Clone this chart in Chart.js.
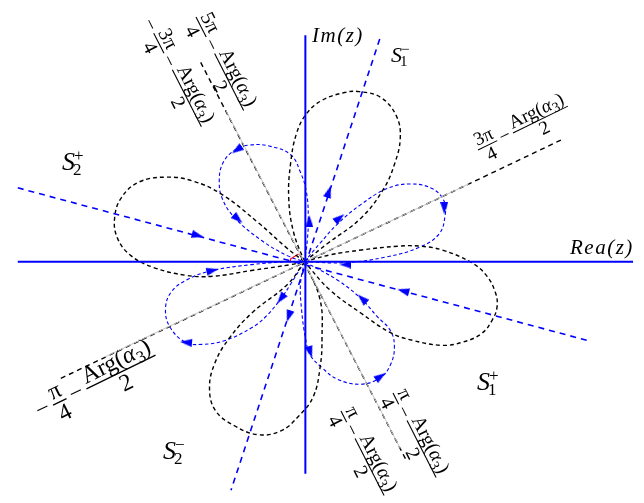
<!DOCTYPE html>
<html>
<head>
<meta charset="utf-8">
<script src="https://cdn.jsdelivr.net/npm/chart.js@4.4.0/dist/chart.umd.min.js"></script>
<style>
  html, body { margin: 0; padding: 0; background: #fff; }
  #wrap { width: 644px; height: 503px; }
</style>
</head>
<body>
<div id="wrap"><canvas id="myChart" width="644" height="503"></canvas></div>
<script>
// loops, as (Re, Im) relative to the origin
const petalBlackTop = [[0,0],[-11,30],[-16,65],[-14,102],[-8,132],[2,152],[18,166],[41,174],[56,175],[78,169],[94,150],[98,127],[92,100],[81,75],[58,45],[24,19],[0,0]];
const petalBlackLeft = [[0,0],[-19,15],[-47,40],[-84,69],[-114,83],[-141,87],[-169,82],[-187,66],[-194,45],[-191,24],[-177,6],[-154,-6],[-121,-14],[-94,-15],[-54,-9],[-14,-3],[0,0]];
const petalBlackRight = [[0,0],[26,7],[58,12],[96,16],[118,16],[141,12],[171,-1],[186,-14],[195,-31],[197,-46],[192,-60],[181,-74],[161,-83],[141,-86],[111,-81],[88,-73],[58,-53],[26,-29],[0,0]];
const petalBlackBottom = [[0,0],[-17,-23],[-54,-53],[-77,-79],[-91,-103],[-97,-129],[-91,-153],[-71,-169],[-47,-178],[-24,-174],[-6,-159],[9,-139],[16,-109],[18,-79],[16,-39],[0,0]];

const petalBlueUL = [[0,0],[3,22],[4,47],[2,72],[-4,92],[-14,110],[-36,119],[-56,120],[-71,115],[-83,102],[-87,85],[-84,65],[-71,45],[-44,22],[-17,6],[0,0]];
const petalBlueUR = [[0,0],[16,19],[34,39],[58,59],[84,75],[108,80],[131,75],[143,62],[144,49],[138,29],[118,15],[84,5],[41,-1],[0,0]];
const petalBlueLL = [[0,0],[-14,-23],[-24,-38],[-39,-56],[-54,-68],[-81,-81],[-104,-85],[-121,-83],[-137,-68],[-142,-49],[-136,-31],[-119,-18],[-94,-9],[-54,-3],[-19,0],[0,0]];
const petalBlueLR = [[0,0],[-4,-23],[-3,-48],[1,-78],[6,-96],[18,-109],[34,-121],[58,-126],[78,-119],[88,-106],[92,-88],[88,-71],[74,-56],[59,-39],[34,-19],[0,0]];

// straight lines
const realAxis = [[-293,0],[336,0]];
const imagAxis = [[1,233],[1,-218]];
const rayBlueA = [[-293,76],[293,-82]];
const rayBlueB = [[77,229],[-75,-235]];
const rayBlackA = [[-249,-120],[264,126]];
const rayBlackB = [[-106,205],[104,-204]];
const greyA = [[-204,-98],[168,80]];
const greyB = [[-80,155],[98,-192]];
const redMark = [[-15,-1],[-14,3],[-6,8]];

// arrow heads: where they sit and which way they point (deg, clockwise from up)
const arrowPts = [[-69,115],[-68,44],[5,42],[25,72],[36,45],[143,55],[42,-3],[-109,27],[101,-30],[-94,-9],[-121,-83],[-24,-38],[-16,-56],[6,-93],[78,-118],[59,-38]];
const arrowDirs = [-125,132,0,18,51,180,-90,105,-75,77,-85,-143,-162,163,56,-47];

const pts = arr => arr.map(p => ({x: p[0], y: p[1]}));

const arrowImg = document.createElement('canvas');
arrowImg.width = 8; arrowImg.height = 12;
const ac = arrowImg.getContext('2d');
ac.fillStyle = '#0000ff';
ac.beginPath(); ac.moveTo(4, 0); ac.lineTo(8, 12); ac.lineTo(0, 12); ac.closePath(); ac.fill();

const line = (data, color, width, dash, tension) => ({
  data: pts(data), showLine: true, borderColor: color, borderWidth: width,
  borderDash: dash, pointRadius: 0, tension: tension || 0, fill: false
});

const SERIF = '"Liberation Serif", "Times New Roman", Times, serif';

function drawArg(ctx, x, y, size, draw) {
  let cx = x;
  const run = (t, font, dy) => {
    ctx.font = font;
    if (draw) ctx.fillText(t, cx, y + dy);
    cx += ctx.measureText(t).width;
  };
  run('Arg(', size + 'px ' + SERIF, 0);
  run('\u03b1', 'italic ' + size + 'px ' + SERIF, 0);
  run('3', Math.round(size * 0.72) + 'px ' + SERIF, size * 0.22);
  run(')', size + 'px ' + SERIF, 0);
  return cx - x;
}

function piece(ctx, t, x, y, size, draw) {
  if (t === 'ARG') return drawArg(ctx, x, y, size, draw);
  ctx.font = size + 'px ' + SERIF;
  if (draw) ctx.fillText(t, x, y);
  return ctx.measureText(t).width;
}

function fracLabel(ctx, x, y, deg, size, parts) {
  ctx.save();
  ctx.translate(x, y);
  ctx.rotate(deg * Math.PI / 180);
  ctx.fillStyle = '#000';
  ctx.strokeStyle = '#000';
  ctx.textBaseline = 'alphabetic';
  let cx = 0;
  for (const p of parts) {
    if (typeof p === 'string') {
      const w = piece(ctx, p, cx, size * 0.26, size, true);
      cx += w + size * 0.18;
    } else {
      const wn = piece(ctx, p[0], 0, 0, size, false);
      const wd = piece(ctx, p[1], 0, 0, size, false);
      const w = Math.max(wn, wd) + size * 0.12;
      piece(ctx, p[0], cx + (w - wn) / 2, -size * 0.2, size, true);
      piece(ctx, p[1], cx + (w - wd) / 2, size * 0.8, size, true);
      ctx.lineWidth = Math.max(1, size * 0.055);
      ctx.beginPath(); ctx.moveTo(cx, 0); ctx.lineTo(cx + w, 0); ctx.stroke();
      cx += w + size * 0.18;
    }
  }
  ctx.restore();
}

function sLabel(ctx, x, y, size, sub, sup) {
  ctx.save();
  ctx.fillStyle = '#000';
  ctx.textBaseline = 'alphabetic';
  ctx.font = 'italic ' + size + 'px ' + SERIF;
  ctx.fillText('S', x, y);
  const w = ctx.measureText('S').width;
  ctx.font = Math.round(size * 0.66) + 'px ' + SERIF;
  ctx.fillText(sub, x + w - 2, y + size * 0.2);
  ctx.fillText(sup, x + w - 1, y - size * 0.36);
  ctx.restore();
}

const textPlugin = {
  id: 'texts',
  afterDatasetsDraw(chart) {
    const ctx = chart.ctx;
    ctx.save();
    ctx.fillStyle = '#000';
    ctx.textBaseline = 'alphabetic';
    ctx.font = 'italic 21px ' + SERIF;
    ctx.letterSpacing = '1.5px';
    ctx.fillText('Im(z)', 312, 42);
    ctx.fillText('Rea(z)', 570, 254);
    ctx.letterSpacing = '0px';
    ctx.restore();

    sLabel(ctx, 391, 62, 22, '1', '\u2212');
    sLabel(ctx, 62, 170, 26, '2', '+');
    sLabel(ctx, 477, 390, 26, '1', '+');
    sLabel(ctx, 163, 459, 26, '2', '\u2212');

    fracLabel(ctx, 196, 17, 63, 20, [['5\u03c0', '4'], '\u2212', ['ARG', '2']]);
    fracLabel(ctx, 147, 20, 63, 20, ['\u2212', ['3\u03c0', '4'], '\u2212', ['ARG', '2']]);
    fracLabel(ctx, 478, 150, -26, 19, [['3\u03c0', '4'], '\u2212', ['ARG', '2']]);
    fracLabel(ctx, 37, 413, -26, 24, ['\u2212', ['\u03c0', '4'], '\u2212', ['ARG', '2']]);
    fracLabel(ctx, 393, 393, 63, 20, [['\u03c0', '4'], '\u2212', ['ARG', '2']]);
    fracLabel(ctx, 341, 411, 63, 20, [['\u03c0', '4'], '\u2212', ['ARG', '2']]);
  }
};

const ctx = document.getElementById('myChart');
new Chart(ctx, {
  type: 'scatter',
  data: {
    datasets: [
      line(realAxis, '#0000ff', 2, []),
      line(imagAxis, '#0000ff', 2, []),
      line(greyA, '#c4c4c4', 1, []),
      line(greyB, '#c4c4c4', 1, []),
      line(rayBlackA, '#000000', 1.4, [5, 4]),
      line(rayBlackB, '#000000', 1.4, [5, 4]),
      line(rayBlueA, '#0000ff', 1.6, [6, 5]),
      line(rayBlueB, '#0000ff', 1.6, [6, 5]),
      line(petalBlackTop, '#000000', 1.4, [4, 3], 0.4),
      line(petalBlackLeft, '#000000', 1.4, [4, 3], 0.4),
      line(petalBlackRight, '#000000', 1.4, [4, 3], 0.4),
      line(petalBlackBottom, '#000000', 1.4, [4, 3], 0.4),
      line(petalBlueUL, '#0000ff', 1.1, [3.5, 2.5], 0.4),
      line(petalBlueUR, '#0000ff', 1.1, [3.5, 2.5], 0.4),
      line(petalBlueLL, '#0000ff', 1.1, [3.5, 2.5], 0.4),
      line(petalBlueLR, '#0000ff', 1.1, [3.5, 2.5], 0.4),
      line(redMark, '#ff0000', 1.2, []),
      {
        data: pts(arrowPts), showLine: false,
        pointStyle: arrowImg, pointRotation: arrowDirs, pointRadius: 6
      }
    ]
  },
  options: {
    responsive: false,
    animation: false,
    events: [],
    layout: { padding: 0 },
    plugins: { legend: { display: false }, tooltip: { enabled: false } },
    scales: {
      x: { type: 'linear', min: -304, max: 340, display: false },
      y: { type: 'linear', min: -241, max: 262, display: false }
    }
  },
  plugins: [textPlugin]
});
</script>
</body>
</html>
